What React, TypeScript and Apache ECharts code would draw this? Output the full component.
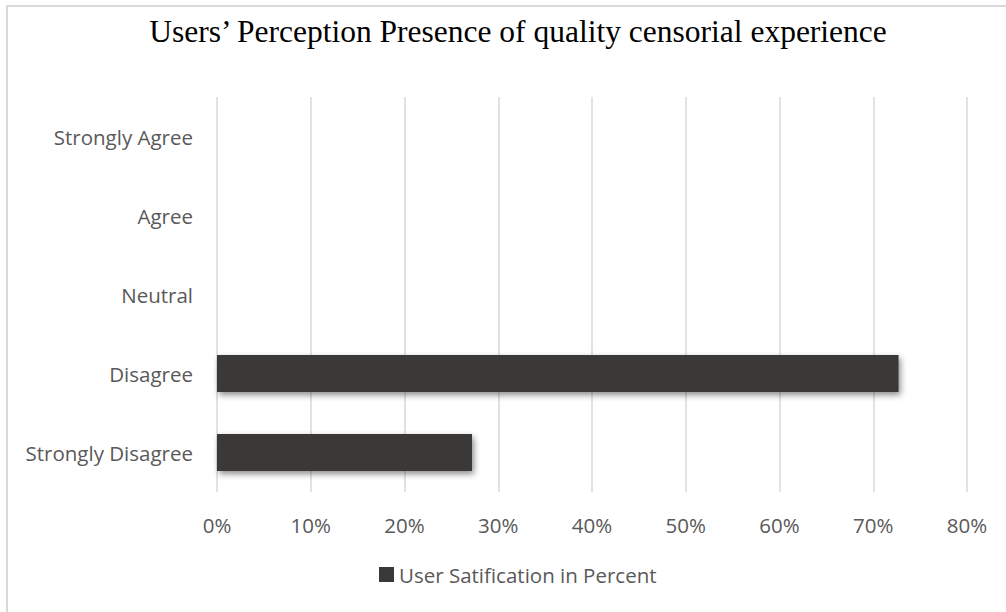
import React, { useEffect, useRef } from "react";
import * as echarts from "echarts";

const categories = ["Strongly Disagree", "Disagree", "Neutral", "Agree", "Strongly Agree"];
const values = [27.2, 72.7, 0, 0, 0];
const xTicks = [0, 10, 20, 30, 40, 50, 60, 70, 80];
const seriesName = "User Satification in Percent";
const titleText = "Users\u2019 Perception Presence of quality censorial experience";

export default function App() {
  const ref = useRef<HTMLDivElement>(null);
  useEffect(() => {
    if (!ref.current) return;
    const chart = echarts.init(ref.current, undefined, { renderer: "svg" });
    const labelFont = "Open Sans, Lato, sans-serif";
    chart.setOption({
      animation: false,
      backgroundColor: "#ffffff",
      title: {
        text: titleText,
        left: 513,
        textAlign: "center",
        top: 10,
        textStyle: {
          fontFamily: "Liberation Serif, Times New Roman, serif",
          fontSize: 31.5,
          fontWeight: "normal",
          color: "#000000",
        },
      },
      graphic: [
        {
          type: "rect",
          shape: { x: 7, y: 6, width: 1100, height: 700 },
          style: { fill: "none", stroke: "#d9d9d9", lineWidth: 2 },
          silent: true,
        },
      ],
      grid: { left: 217, right: 39, top: 97, bottom: 120, containLabel: false },
      xAxis: {
        type: "value",
        min: xTicks[0],
        max: xTicks[xTicks.length - 1],
        interval: 10,
        axisLine: { show: false },
        axisTick: { show: false },
        axisLabel: {
          formatter: (v: number) => `${v}%`,
          color: "#595959",
          fontSize: 20.5,
          fontFamily: labelFont,
          margin: 22,
        },
        splitLine: { show: true, lineStyle: { color: "#d9d9d9", width: 1.5 } },
      },
      yAxis: {
        type: "category",
        data: categories,
        axisLine: { show: false },
        axisTick: { show: false },
        axisLabel: {
          color: "#595959",
          fontSize: 20.5,
          fontFamily: labelFont,
          margin: 24,
        },
        splitLine: { show: false },
      },
      legend: {
        bottom: 22,
        left: 374,
        itemWidth: 15,
        itemHeight: 15,
        itemGap: 6,
        icon: "rect",
        textStyle: { color: "#595959", fontSize: 20.5, fontFamily: labelFont, padding: [0, 0, 0, 0] },
        data: [seriesName],
      },
      series: [
        {
          name: seriesName,
          type: "bar",
          data: values,
          barCategoryGap: "53%",
          itemStyle: {
            color: "#3b3938",
            shadowColor: "rgba(0,0,0,0.45)",
            shadowBlur: 6,
            shadowOffsetX: 2,
            shadowOffsetY: 3,
          },
        },
      ],
    });
    return () => chart.dispose();
  }, []);
  return (
    <div
      ref={ref}
      style={{ position: "absolute", left: 0, top: 0, width: 1006, height: 612 }}
    />
  );
}
